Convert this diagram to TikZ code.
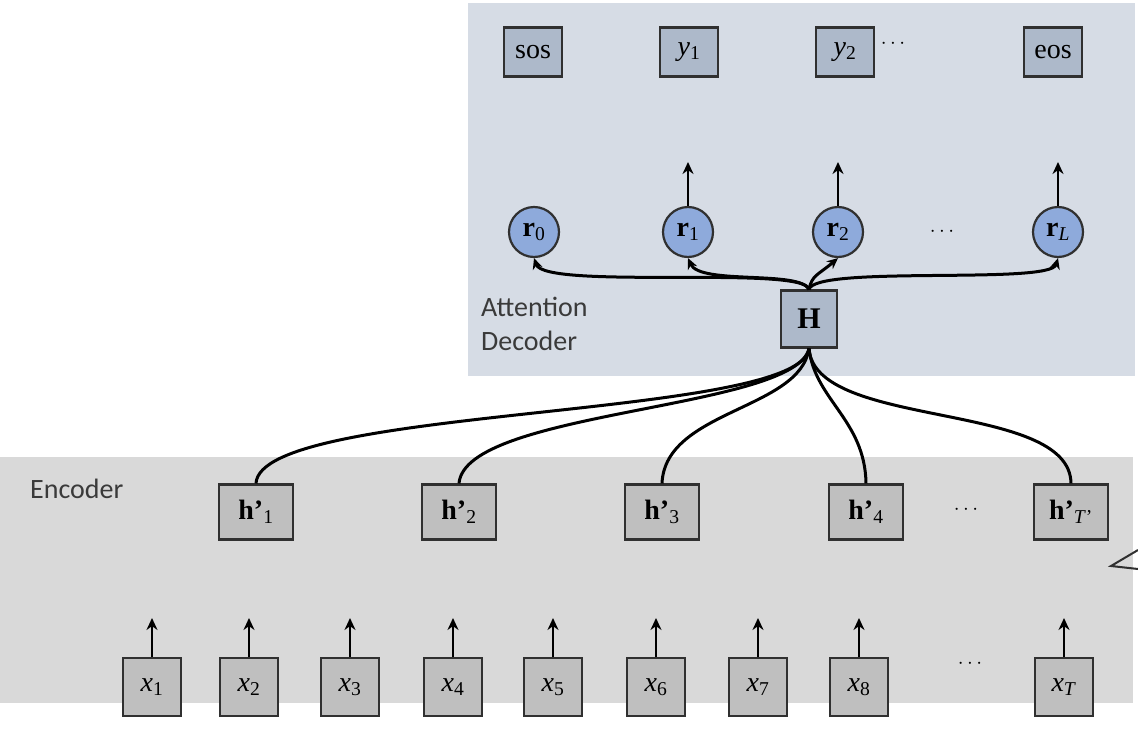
\documentclass[tikz,border=0pt]{standalone}
\usepackage{fontspec}
\setmainfont{Liberation Serif}
\newfontfamily\labelsans{Carlito}
\usetikzlibrary{arrows.meta}
\definecolor{decbg}{HTML}{D6DCE5}
\definecolor{encbg}{HTML}{D9D9D9}
\definecolor{dbox}{HTML}{ADB9CA}
\definecolor{ebox}{HTML}{BFBFBF}
\definecolor{rfill}{HTML}{8EAADB}
\definecolor{edge}{HTML}{303030}
\definecolor{lbl}{HTML}{3A3A3A}
\tikzset{
  decbox/.style={draw=edge, line width=2.2pt, fill=dbox, minimum width=58pt, minimum height=49pt, inner sep=0pt, font=\fontsize{28}{30}\selectfont},
  hbox/.style={draw=edge, line width=2.2pt, fill=dbox, minimum width=56pt, minimum height=57pt, inner sep=0pt, font=\fontsize{30}{32}\selectfont\bfseries},
  rnode/.style={draw=edge, line width=2.2pt, fill=rfill, circle, minimum size=50pt, inner sep=0pt, font=\fontsize{28}{30}\selectfont},
  encbox/.style={draw=edge, line width=2.2pt, fill=ebox, minimum width=74pt, minimum height=55pt, inner sep=0pt, font=\fontsize{28}{30}\selectfont},
  xbox/.style={draw=edge, line width=2.2pt, fill=ebox, minimum width=58pt, minimum height=58pt, inner sep=0pt, font=\fontsize{28}{30}\selectfont},
  dots/.style={font=\fontsize{22}{24}\selectfont, text=black},
  panel label/.style={font=\labelsans\fontsize{28}{34}\selectfont, text=lbl, align=left, anchor=north west, inner sep=0pt},
  uparrow/.style={line width=2.8pt, -{Stealth[length=12pt,width=11pt]}},
  conn/.style={line width=3pt, black},
  connarrow/.style={line width=3pt, black, -{Stealth[length=11pt,width=10pt]}}
}
\begin{document}
\begin{tikzpicture}[x=1pt,y=-1pt]
\useasboundingbox (0,0) rectangle (1138,736);
% panels
\fill[decbg] (468,3) rectangle (1135,376);
\fill[encbg] (0,457) rectangle (1133,703);
\node[panel label] (attlbl) at (481,297) {Attention\\Decoder};
\node[panel label] (enclbl) at (30,479) {Encoder};
% decoder outputs
\node[decbox] (sos) at (533,52) {sos};
\node[decbox] (y1) at (689,52) {\textit{y}\textsubscript{1}};
\node[decbox] (y2) at (845,52) {\textit{y}\textsubscript{2}};
\node[dots] (ydots) at (893,44) {$\cdots$};
\node[decbox] (eos) at (1053,52) {eos};
% r nodes
\node[rnode] (r0) at (534,232) {\textbf{r}\textsubscript{0}};
\node[rnode] (r1) at (688,232) {\textbf{r}\textsubscript{1}};
\node[rnode] (r2) at (838,232) {\textbf{r}\textsubscript{2}};
\node[dots] (rdots) at (942,232) {$\cdots$};
\node[rnode] (rL) at (1058,232) {\textbf{r}\textsubscript{\textit{L}}};
\coordinate (r1up) at (688,162);
\coordinate (r2up) at (838,162);
\coordinate (rLup) at (1058,162);
\draw[uparrow] (r1.north) -- (r1up);
\draw[uparrow] (r2.north) -- (r2up);
\draw[uparrow] (rL.north) -- (rLup);
% H
\node[hbox] (H) at (809,319) {H};
\draw[connarrow] (H.north) .. controls (805,265) and (545,290) .. (r0.south);
\draw[connarrow] (H.north) .. controls (800,270) and (700,285) .. (r1.south);
\draw[connarrow] (H.north) .. controls (812,275) and (818,275) .. (r2.south);
\draw[connarrow] (H.north) .. controls (815,265) and (1050,285) .. (rL.south);
% encoder
\node[encbox] (h1) at (256,512) {\textbf{h’}\textsubscript{1}};
\node[encbox] (h2) at (459,512) {\textbf{h’}\textsubscript{2}};
\node[encbox] (h3) at (662,512) {\textbf{h’}\textsubscript{3}};
\node[encbox] (h4) at (866,512) {\textbf{h’}\textsubscript{4}};
\node[dots] (hdots) at (966,510) {$\cdots$};
\node[encbox] (hT) at (1071,512) {\textbf{h’}\textsubscript{\textit{T}’}};
\draw[conn] (H.south) .. controls (800,420) and (260,405) .. (h1.north);
\draw[conn] (H.south) .. controls (795,410) and (465,410) .. (h2.north);
\draw[conn] (H.south) .. controls (800,410) and (665,410) .. (h3.north);
\draw[conn] (H.south) .. controls (815,400) and (865,420) .. (h4.north);
\draw[conn] (H.south) .. controls (815,430) and (1070,400) .. (hT.north);
% inputs
\foreach \n/\xx in {1/152,2/249,3/350,4/453,5/553,6/656,7/758,8/859}{
  \node[xbox] (x\n) at (\xx,687) {\textit{x}\textsubscript{\n}};
  \coordinate (x\n up) at (\xx,618);
  \draw[uparrow] (x\n.north) -- (x\n up);
}
\node[dots] (xdots) at (970,664) {$\cdots$};
\node[xbox] (xT) at (1064,687) {\textit{x}\textsubscript{\textit{T}}};
\coordinate (xTup) at (1064,618);
\draw[uparrow] (xT.north) -- (xTup);
% partial arrowhead at right edge
\coordinate (tri1) at (1138,550);
\coordinate (tri2) at (1111,566);
\coordinate (tri3) at (1138,569);
\draw[line width=2pt, edge] (tri1) -- (tri2) -- (tri3);
\end{tikzpicture}
\end{document}
